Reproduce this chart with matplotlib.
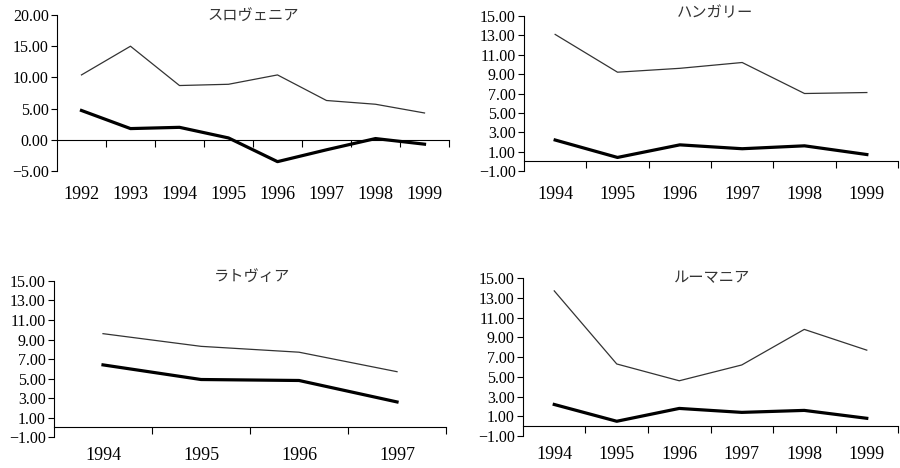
import matplotlib.pyplot as plt
import matplotlib.ticker as mticker
import numpy as np

plt.rcParams['font.family'] = ['Liberation Serif', 'DejaVu Serif']

# data
slo_years = ['1992', '1993', '1994', '1995', '1996', '1997', '1998', '1999']
slo_thin = [10.4, 15.0, 8.7, 8.9, 10.4, 6.3, 5.7, 4.3]
slo_thick = [4.7, 1.8, 2.0, 0.3, -3.5, -1.6, 0.2, -0.7]

hun_years = ['1994', '1995', '1996', '1997', '1998', '1999']
hun_thin = [13.1, 9.2, 9.6, 10.2, 7.0, 7.1]
hun_thick = [2.2, 0.4, 1.7, 1.3, 1.6, 0.7]

lat_years = ['1994', '1995', '1996', '1997']
lat_thin = [9.6, 8.3, 7.7, 5.7]
lat_thick = [6.4, 4.9, 4.8, 2.6]

rom_years = ['1994', '1995', '1996', '1997', '1998', '1999']
rom_thin = [13.7, 6.3, 4.6, 6.2, 9.8, 7.7]
rom_thick = [2.2, 0.5, 1.8, 1.4, 1.6, 0.8]

panels = [
    ('スロヴェニア', slo_years, slo_thin, slo_thick, (-5, 20, 5),
     [0.0633, 0.6346, 0.4356, 0.3333], (0.5, 1.0), 11),
    ('ハンガリー', hun_years, hun_thin, hun_thick, (-1, 15, 2),
     [0.5822, 0.6346, 0.4156, 0.3312], (0.51, 1.02), 11),
    ('ラトヴィア', lat_years, lat_thin, lat_thick, (-1, 15, 2),
     [0.0600, 0.0661, 0.4356, 0.3335], (0.505, 1.03), 7),
    ('ルーマニア', rom_years, rom_thin, rom_thick, (-1, 15, 2),
     [0.5811, 0.0682, 0.4167, 0.3377], (0.505, 1.005), 7),
]


def fmt(v, pos):
    return ('%.2f' % v).replace('-', '\u2212')


fig = plt.figure(figsize=(9, 4.68), dpi=100)

for title, years, thin, thick, (lo, hi, step), pos, tpos, xpad in panels:
    ax = fig.add_axes(pos)
    x = np.arange(len(years))
    ax.plot(x, thin, color='#333333', lw=0.9)
    ax.plot(x, thick, color='black', lw=2.3)
    ax.set_xlim(-0.5, len(years) - 0.5)
    ax.set_ylim(lo, hi)
    ax.set_yticks(np.arange(lo, hi + 0.01, step))
    ax.yaxis.set_major_formatter(mticker.FuncFormatter(fmt))
    ax.tick_params(axis='y', direction='out', length=4, width=0.8, labelsize=11.5, pad=2)

    # category labels at the bottom, tick marks on the zero line
    ax.set_xticks(x)
    ax.set_xticklabels(years)
    ax.set_xticks(np.arange(0.5, len(years), 1.0), minor=True)
    ax.tick_params(axis='x', which='major', length=0, labelsize=13, pad=xpad)
    ax.tick_params(axis='x', which='minor', top=True, bottom=False,
                   direction='in', length=5, width=0.8)

    ax.spines['top'].set_position(('data', 0))
    ax.spines['bottom'].set_visible(False)
    ax.spines['right'].set_visible(False)
    for s in ('top', 'left'):
        ax.spines[s].set_linewidth(0.8)

    ax.text(tpos[0], tpos[1], title, transform=ax.transAxes, ha='center', va='center',
            fontsize=11, color='#333333', family=['Noto Sans CJK JP', 'DejaVu Sans'])

fig.savefig('out.png', dpi=100)
